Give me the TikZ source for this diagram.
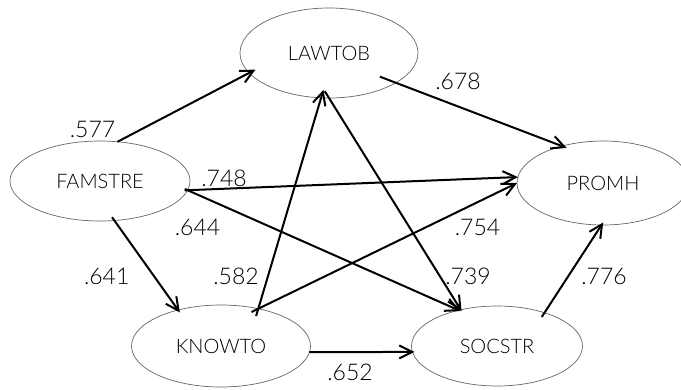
\documentclass[tikz,border=0pt]{standalone}
\usepackage{fontspec}
\setmainfont{Lato Light}
\usetikzlibrary{shapes.geometric,arrows.meta}
\tikzset{
  var/.style={ellipse, draw=black!60, line width=0.7pt, inner sep=0pt, outer sep=0pt, font=\fontsize{20}{20}\selectfont},
  path/.style={line width=2pt, -{Straight Barb[length=13pt,width=13pt]}},
  coef/.style={inner sep=0pt, font=\fontsize{23}{23}\selectfont}
}
\begin{document}
\begin{tikzpicture}[x=1pt,y=-1pt]
\useasboundingbox (0,0) rectangle (681,389);
\node[var, minimum width=178pt, minimum height=90pt] (law) at (329,53) {LAWTOB};
\node[var, minimum width=180pt, minimum height=80pt] (fam) at (100,181) {FAMSTRE};
\node[var, minimum width=172pt, minimum height=84pt] (pro) at (603,183) {PROMH};
\node[var, minimum width=179pt, minimum height=82pt] (kno) at (221,346) {KNOWTO};
\node[var, minimum width=171pt, minimum height=80pt] (soc) at (497,346) {SOCSTR};

\draw[path, shorten >=-7pt] (fam.66) -- (law.194.6);
\draw[path, shorten <=-17pt, shorten >=-5pt] (law.336.3) -- (pro.138.2);
\draw[path, shorten <=-3pt] (fam.354.8) -- (pro.176.25);
\draw[path, shorten <=-3pt, shorten >=-2pt] (fam.354.8) -- (soc.137.4);
\draw[path, shorten <=-4pt, shorten >=-3pt] (fam.290.9) -- (kno.140);
\draw[path, shorten <=-7.6pt, shorten >=-8.3pt] (kno.45.1) -- (law.260.9);
\draw[path, shorten <=-7.6pt] (kno.45.1) -- (pro.180);
\draw[path, shorten <=-8pt, shorten >=-1.5pt] (law.270) -- (soc.135.8);
\draw[path, shorten >=-2pt] (kno.356) -- (soc.184.2);
\draw[path, shorten <=-5pt, shorten >=-3pt] (soc.35) -- (pro.268.1);

\node[coef] (c577) at (92.5,129) {.577};
\node[coef] (c678) at (458,81.5) {.678};
\node[coef] (c748) at (224,178) {.748};
\node[coef] (c644) at (197.5,227.5) {.644};
\node[coef] (c641) at (106.7,276.7) {.641};
\node[coef] (c582) at (236,276) {.582};
\node[coef] (c754) at (477.5,227.5) {.754};
\node[coef] (c739) at (468,276) {.739};
\node[coef] (c776) at (604,276) {.776};
\node[coef] (c652) at (350,372) {.652};
\end{tikzpicture}
\end{document}
